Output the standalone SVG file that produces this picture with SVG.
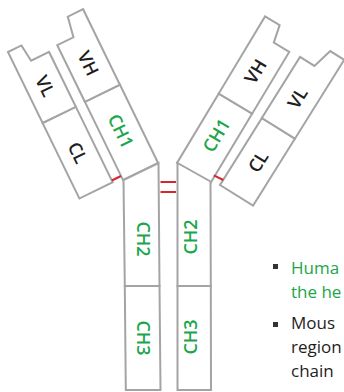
<svg xmlns="http://www.w3.org/2000/svg" width="344" height="392" viewBox="0 0 344 392">
<style>
.box{fill:#fff;stroke:#a4a4a4;stroke-width:2;stroke-linejoin:miter}
.lbl{font-family:"Open Sans","Noto Sans","Liberation Sans",sans-serif;font-size:18px;font-weight:600;text-anchor:middle}
.g{fill:#1ba64b}
.k{fill:#1e1e1e}
.ss{stroke:#d6262e;stroke-width:2;fill:none}
.note{font-family:"Open Sans","Noto Sans","Liberation Sans",sans-serif;font-size:17px}
</style>
<rect width="344" height="392" fill="#fff"/>

<g id="left-light" transform="translate(79.4,198.5) rotate(-26)">
  <g id="left-CL">
    <polygon class="box" points="0,0 37,0 37,-84 0,-84"/>
    <text class="lbl k" transform="translate(18.5,-42) rotate(90)" dy=".36em">CL</text>
  </g>
  <g id="left-VL">
    <polygon class="box" points="0,-84 37,-84 37,-145 17,-145 15,-163 0,-163"/>
    <text class="lbl k" transform="translate(18.5,-116) rotate(90)" dy=".36em">VL</text>
  </g>
</g>

<g id="left-heavy" transform="translate(123,180) rotate(-26)">
  <g id="left-CH1">
    <polygon class="box" points="0,0 39,0 39,-87 0,-87"/>
    <text class="lbl g" transform="translate(19.5,-45) rotate(90)" dy=".36em">CH1</text>
  </g>
  <g id="left-VH">
    <polygon class="box" points="0,-87 39,-87 39,-171 22,-171 18,-150 0,-150"/>
    <text class="lbl k" transform="translate(20,-120) rotate(90)" dy=".36em">VH</text>
  </g>
</g>

<g id="right-heavy" transform="translate(177,163) rotate(31)">
  <g id="right-CH1">
    <polygon class="box" points="0,0 39,0 39,-81 0,-81"/>
    <text class="lbl g" transform="translate(19.5,-44) rotate(-90)" dy=".36em">CH1</text>
  </g>
  <g id="right-VH">
    <polygon class="box" points="0,-81 39,-81 39,-153 21,-153 17,-171 0,-171"/>
    <text class="lbl k" transform="translate(20,-119) rotate(-90)" dy=".36em">VH</text>
  </g>
</g>

<g id="right-light" transform="translate(220,185) rotate(32)">
  <g id="right-CL">
    <polygon class="box" points="0,0 39,0 39,-79 0,-79"/>
    <text class="lbl k" transform="translate(20,-40) rotate(-90)" dy=".36em">CL</text>
  </g>
  <g id="right-VL">
    <polygon class="box" points="0,-79 39,-79 39,-172 22.5,-172 17,-151 0,-151"/>
    <text class="lbl k" transform="translate(19.5,-115) rotate(-90)" dy=".36em">VL</text>
  </g>
</g>

<g id="left-stem">
  <g id="left-CH2">
    <polygon class="box" points="123.5,180 158.5,163 159.5,286 124.8,286"/>
    <text class="lbl g" transform="translate(143,239) rotate(90)" dy=".36em">CH2</text>
  </g>
  <g id="left-CH3">
    <polygon class="box" points="124.8,286 159.5,286 160.5,390 125.8,390"/>
    <text class="lbl g" transform="translate(143,338) rotate(90)" dy=".36em">CH3</text>
  </g>
</g>

<g id="right-stem">
  <g id="right-CH2">
    <polygon class="box" points="177.5,163 210.5,181.5 210.8,286 177.5,286"/>
    <text class="lbl g" transform="translate(190.5,237) rotate(-90)" dy=".36em">CH2</text>
  </g>
  <g id="right-CH3">
    <polygon class="box" points="177.5,286 210.8,286 211,390 177.5,390"/>
    <text class="lbl g" transform="translate(190.5,337) rotate(-90)" dy=".36em">CH3</text>
  </g>
</g>

<g id="connectors">
  <line class="ss" x1="160.5" y1="182" x2="176" y2="182"/>
  <line class="ss" x1="160.5" y1="192" x2="176" y2="192"/>
  <line class="ss" x1="111.8" y1="180.5" x2="121" y2="176"/>
  <line class="ss" x1="213.8" y1="175.3" x2="223.3" y2="180"/>
</g>

<g id="notes">
  <rect x="273" y="264" width="5" height="5" fill="#333"/>
  <text class="note g" x="291" y="274">Huma</text>
  <text class="note g" x="291" y="298">the he</text>
  <rect x="273" y="322" width="5" height="5" fill="#333"/>
  <text class="note k" x="291" y="329">Mous</text>
  <text class="note k" x="291" y="353">region</text>
  <text class="note k" x="291" y="377">chain</text>
</g>
</svg>
